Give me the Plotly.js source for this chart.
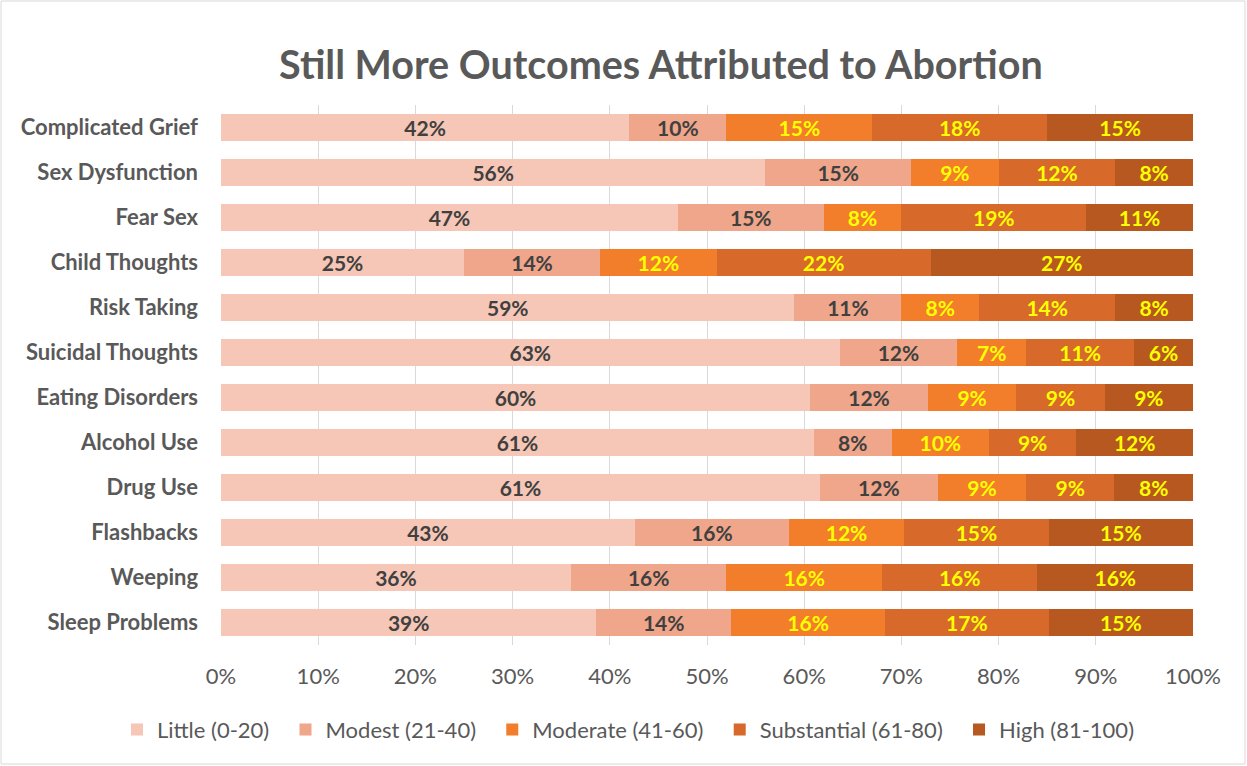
<!DOCTYPE html>
<html>
<head>
<meta charset="utf-8">
<script src="https://cdn.plot.ly/plotly-3.0.1.min.js"></script>
<style>body{margin:0;background:#fff}#chart{width:1247px;height:766px}</style>
</head>
<body>
<div id="chart"></div>
<script>
const categories = ["Complicated Grief","Sex Dysfunction","Fear Sex","Child Thoughts","Risk Taking","Suicidal Thoughts","Eating Disorders","Alcohol Use","Drug Use","Flashbacks","Weeping","Sleep Problems"];
const seriesNames = ["Little (0-20)","Modest (21-40)","Moderate (41-60)","Substantial (61-80)","High (81-100)"];
const little      = [42,56,47,25,59,63,60,61,61,43,36,39];
const modest      = [10,15,15,14,11,12,12, 8,12,16,16,14];
const moderate    = [15, 9, 8,12, 8, 7, 9,10, 9,12,16,16];
const substantial = [18,12,19,22,14,11, 9, 9, 9,15,16,17];
const high        = [15, 8,11,27, 8, 6, 9,12, 8,15,16,15];
const seriesValues = [little, modest, moderate, substantial, high];
const colors = ["#F6C6B6","#EFA68A","#F27D2B","#D7692B","#B6581F"];
const textColors = ["#404040","#404040","#FFFF00","#FFFF00","#FFFF00"];
const FONT = "Lato, Open Sans, sans-serif";
const PAD = "\u00A0\u00A0";

const traces = seriesValues.map((vals, i) => ({
  type: "bar",
  orientation: "h",
  name: seriesNames[i] + (i < seriesNames.length - 1 ? PAD : ""),
  y: categories,
  x: vals,
  text: vals.map(v => v + "%"),
  textposition: "inside",
  insidetextanchor: "middle",
  textangle: 0,
  constraintext: "none",
  textfont: {family: FONT, size: 21, color: textColors[i], weight: "bold"},
  marker: {color: colors[i], line: {width: 0}},
  hoverinfo: "name+text"
}));

const layout = {
  width: 1247, height: 766,
  paper_bgcolor: "#fff", plot_bgcolor: "#fff",
  margin: {l: 221, r: 54, t: 105, b: 121},
  barmode: "stack",
  barnorm: "percent",
  bargap: 0.42,
  title: {text: "<b>Still More Outcomes Attributed to Abortion</b>", font: {family: FONT, size: 39.5, color: "#595959"},
          x: 0.53, xref: "container", xanchor: "center", y: 0.915, yref: "container", yanchor: "middle"},
  xaxis: {range: [0, 100], dtick: 10, ticksuffix: "%", showgrid: true, gridcolor: "#D9D9D9", gridwidth: 1,
          zeroline: false, showline: false, ticks: "", tickfont: {family: FONT, size: 22, color: "#595959"}, ticklabelstandoff: 16, fixedrange: true},
  yaxis: {autorange: "reversed", showgrid: false, zeroline: false, showline: false, ticks: "",
          ticklabelstandoff: 22, tickfont: {family: FONT, size: 22, color: "#595959", weight: "bold"}, fixedrange: true},
  legend: {orientation: "h", xref: "paper", x: -0.107, xanchor: "left", yref: "paper", y: -0.157, yanchor: "middle",
           font: {family: FONT, size: 22, color: "#595959"}, itemwidth: 30, traceorder: "normal"},
  shapes: [{type: "rect", xref: "paper", yref: "paper", x0: -0.2263, x1: 1.0535, y0: -0.2204, y1: 1.1926,
            line: {color: "#D9D9D9", width: 1}, fillcolor: "rgba(0,0,0,0)", layer: "below"}],
  showlegend: true
};

Plotly.newPlot("chart", traces, layout, {displayModeBar: false, staticPlot: true});
</script>
</body>
</html>
